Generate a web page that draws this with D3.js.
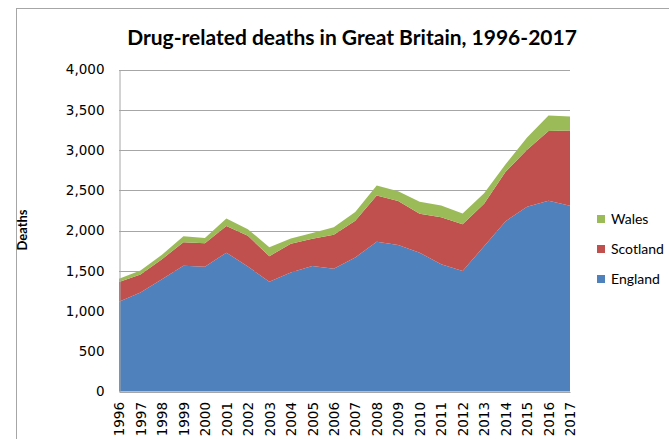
<!DOCTYPE html>
<html>
<head>
<meta charset="utf-8">
<script src="https://cdn.jsdelivr.net/npm/d3@7"></script>
<style>
  body { margin: 0; background: #fff; }
</style>
</head>
<body>
<div id="chart"></div>
<script>
var years = [1996, 1997, 1998, 1999, 2000, 2001, 2002, 2003, 2004, 2005, 2006,
             2007, 2008, 2009, 2010, 2011, 2012, 2013, 2014, 2015, 2016, 2017];
var england = [1115, 1230, 1395, 1563, 1550, 1725, 1552, 1364, 1478, 1560, 1525,
               1665, 1861, 1820, 1724, 1580, 1497, 1805, 2115, 2296, 2370, 2308];
var scotland = [244, 224, 249, 291, 292, 332, 382, 317, 356, 336, 421,
                455, 574, 545, 485, 584, 581, 526, 614, 706, 867, 934];
var wales = [42, 49, 54, 74, 66, 91, 83, 111, 66, 74, 95,
             111, 124, 124, 149, 146, 133, 133, 95, 153, 191, 174];
var seriesNames = ["England", "Scotland", "Wales"];
var colors = {England: "#4F81BD", Scotland: "#C0504D", Wales: "#9BBB59"};
var yTicks = [0, 500, 1000, 1500, 2000, 2500, 3000, 3500, 4000];

var labelFont = "Lato, 'Open Sans', sans-serif";
var tickFont = "'DejaVu Sans', Verdana, sans-serif";

var width = 669, height = 439;
var svg = d3.select("#chart").append("svg")
    .attr("width", width)
    .attr("height", height);

// chart frame
svg.append("rect")
    .attr("x", 16.5).attr("y", 8.5)
    .attr("width", 700).attr("height", 500)
    .attr("fill", "#fff")
    .attr("stroke", "#a6a6a6");

var x = d3.scaleLinear().domain([1996, 2017]).range([119, 570]);
var y = d3.scaleLinear().domain([0, 4000]).range([391.5, 69.5]);

var table = years.map(function(yr, i) {
    return {year: yr, England: england[i], Scotland: scotland[i], Wales: wales[i]};
});
var stacked = d3.stack().keys(seriesNames)(table);

// gridlines
svg.append("g").selectAll("line")
    .data(yTicks.slice(1))
    .enter().append("line")
    .attr("x1", 119).attr("x2", 570)
    .attr("y1", function(d) { return Math.round(y(d)) + 0.5; })
    .attr("y2", function(d) { return Math.round(y(d)) + 0.5; })
    .attr("stroke", "#a6a6a6");

var area = d3.area()
    .x(function(d) { return x(d.data.year); })
    .y0(function(d) { return y(d[0]); })
    .y1(function(d) { return y(d[1]); });

svg.append("g").selectAll("path")
    .data(stacked)
    .enter().append("path")
    .attr("d", area)
    .attr("fill", function(d) { return colors[d.key]; });

// axes
var yAxis = d3.axisLeft(y).tickValues(yTicks).tickSize(0).tickPadding(15)
    .tickFormat(d3.format(","));
var gy = svg.append("g").attr("transform", "translate(119.5,0)").call(yAxis);
gy.attr("font-family", tickFont).attr("font-size", 13.5);
gy.select(".domain").attr("stroke", "#a6a6a6");
gy.selectAll("text").attr("fill", "#000");

var xAxis = d3.axisBottom(x).tickValues(years).tickSize(0).tickFormat(d3.format("d"));
var gx = svg.append("g").attr("transform", "translate(0,392)").call(xAxis);
gx.attr("font-family", tickFont).attr("font-size", 13.5);
gx.select(".domain").attr("stroke", "#a6a6a6");
gx.selectAll("text")
    .attr("fill", "#000")
    .attr("transform", "rotate(-90)")
    .attr("text-anchor", "end")
    .attr("x", -10).attr("y", 0).attr("dy", "0.35em");

// title
svg.append("text")
    .attr("x", 352).attr("y", 45)
    .attr("text-anchor", "middle")
    .attr("font-family", labelFont)
    .attr("font-size", 21).attr("font-weight", "bold")
    .text("Drug-related deaths in Great Britain, 1996-2017");

// y axis title
svg.append("text")
    .attr("transform", "translate(27,230) rotate(-90)")
    .attr("text-anchor", "middle")
    .attr("font-family", labelFont)
    .attr("font-size", 13).attr("font-weight", "bold")
    .text("Deaths");

// legend
var legend = svg.append("g").selectAll("g")
    .data(seriesNames.slice().reverse())
    .enter().append("g")
    .attr("transform", function(d, i) { return "translate(597," + (219 + i * 30) + ")"; });
legend.append("rect")
    .attr("x", 0).attr("y", -4).attr("width", 8).attr("height", 8)
    .attr("fill", function(d) { return colors[d]; });
legend.append("text")
    .attr("x", 14).attr("dy", "0.35em")
    .attr("font-family", labelFont)
    .attr("font-size", 14)
    .text(function(d) { return d; });
</script>
</body>
</html>
